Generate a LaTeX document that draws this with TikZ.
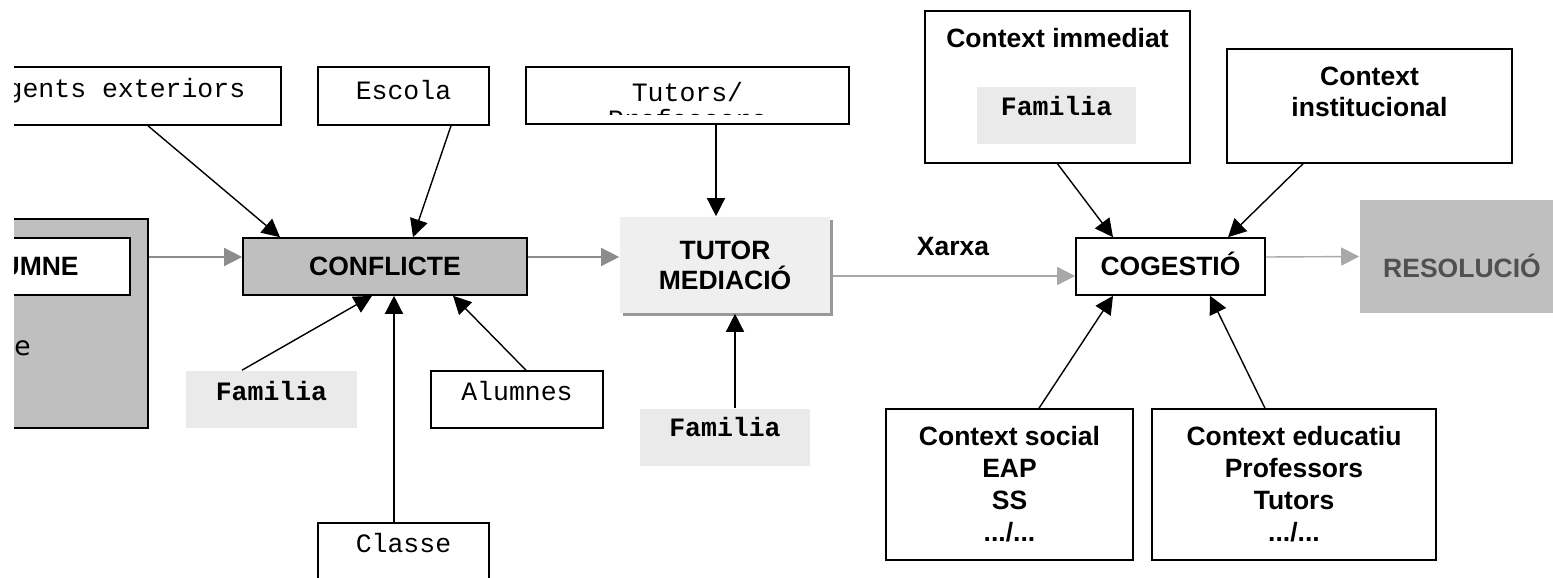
\documentclass[tikz,border=0pt]{standalone}
\usepackage{fontspec}
\setmainfont{Liberation Sans}
\setmonofont{Liberation Mono}
\newfontfamily\dejavu{DejaVu Sans}
\usetikzlibrary{arrows.meta,shadows}
\definecolor{boxgray}{HTML}{BFBFBF}
\definecolor{lightbox}{HTML}{EAEAEA}
\definecolor{tutorfill}{HTML}{EFEFEF}
\definecolor{darkarrow}{HTML}{8C8C8C}
\definecolor{lightarrow}{HTML}{A8A8A8}
\definecolor{restext}{HTML}{505050}
\newcommand\bfont{\fontsize{13.25}{16}\selectfont\bfseries}
\newcommand\mfont{\fontsize{13.25}{16}\selectfont\ttfamily}
\begin{document}
\begin{tikzpicture}[x=0.5pt,y=-0.5pt,
  bbox/.style={draw,line width=0.8pt,inner sep=0pt,font=\bfont,align=center},
  tbox/.style={draw,line width=0.8pt,inner sep=0pt,font=\mfont,text height=10pt,text depth=9pt},
  fambox/.style={tbox,draw=none,fill=lightbox,font=\mfont\bfseries},
  arr/.style={line width=0.7pt,-{Triangle[length=9pt,width=9pt]}},
  garr/.style={arr,darkarrow},
  larr/.style={arr,lightarrow}]
\useasboundingbox (0,0) rectangle (1553,578);
\clip (14,0) rectangle (1553,578);

\node[tbox,minimum width=163pt,minimum height=29pt] (agents) at (118,96) {Agents exteriors};
\node[tbox,minimum width=85.5pt,minimum height=29pt,text depth=6.5pt] (escola) at (403.5,96) {Escola};
\node[tbox,minimum width=161.5pt,minimum height=28.5pt] (tutors) at (687.5,95.5) {};
\begin{scope}
\clip (tutors.north west) rectangle ([yshift=5pt]tutors.south east);
\node[font=\mfont,align=center,inner sep=0pt,anchor=north] (tutorstxt) at (687.5,82) {Tutors/\\[-2.5pt]Professors};
\end{scope}

\node[bbox,fill=boxgray,minimum width=124pt,minimum height=104.5pt] (alumne) at (24,323.5) {};
\node[bbox,fill=white,minimum width=108pt,minimum height=28.5pt] (alumnebox) at (22,266.5) {ALUMNE};
\node[font=\fontsize{13.25}{16}\selectfont\dejavu,inner sep=0pt,anchor=east] (alumnee) at (31,348) {e};

\node[bbox,fill=boxgray,minimum width=142pt,minimum height=28.5pt,text height=9.5pt] (conflicte) at (385,266.5) {CONFLICTE};
\node[fambox,minimum width=85.5pt,minimum height=28.5pt] (familia1) at (271.5,399.5) {Familia};
\node[tbox,minimum width=86pt,minimum height=28.5pt] (alumnes) at (517,399.5) {Alumnes};
\node[tbox,minimum width=85.5pt,minimum height=29pt,text depth=10pt] (classe) at (403.5,552) {Classe};

\node[bbox,draw=none,fill=tutorfill,minimum width=105pt,minimum height=48pt,
  drop shadow={shadow xshift=1.5pt,shadow yshift=-1.5pt,fill=black!40,opacity=1}] (tutor) at (725,265) {TUTOR\\[-1pt]MEDIACIÓ};
\node[fambox,minimum width=85pt,minimum height=28.5pt,text depth=11pt] (familia2) at (725,437.5) {Familia};
\node[font=\bfont,inner sep=0pt] (xarxa) at (953,247) {Xarxa};

\node[bbox,minimum width=132.5pt,minimum height=76pt] (ctximm) at (1057.5,87) {};
\node[font=\bfont,inner sep=0pt] (ctximmtxt) at (1057.5,38) {Context immediat};
\node[fambox,minimum width=79.5pt,minimum height=28.5pt,text depth=10pt] (famimm) at (1056.5,115.5) {Familia};
\node[bbox,minimum width=142.5pt,minimum height=57pt] (ctxinst) at (1369.5,106) {};
\node[font=\bfont,align=center,inner sep=0pt] (ctxinsttxt) at (1369.5,91.5) {Context\\[-0.5pt]institucional};

\node[bbox,minimum width=94.5pt,minimum height=28.5pt,text height=9.5pt] (cogestio) at (1170.5,266.5) {COGESTIÓ};
\node[bbox,draw=none,fill=boxgray,minimum width=102pt,minimum height=56.5pt] (resolucio) at (1462,256.5) {};
\node[font=\bfont,text=restext,inner sep=0pt] (resoluciotxt) at (1462,266) {RESOLUCIÓ};

\node[bbox,minimum width=123.5pt,minimum height=75.5pt] (ctxsoc) at (1009.5,484.5) {Context social\\EAP\\SS\\.../...};
\node[bbox,minimum width=142pt,minimum height=75.5pt] (ctxedu) at (1294,484.5) {Context educatiu\\Professors\\Tutors\\.../...};

\draw[arr] ([xshift=15pt]agents.south) -- ([xshift=-52.5pt]conflicte.north);
\draw[arr] ([xshift=23.75pt]escola.south) -- ([xshift=14pt]conflicte.north);
\draw[arr] ([xshift=14.25pt]tutors.south) -- ([xshift=-4.5pt]tutor.north);
\draw[garr] ([yshift=33.25pt]alumne.east) -- ([yshift=4.75pt]conflicte.west);
\draw[garr] ([yshift=4.75pt]conflicte.east) -- ([yshift=4pt]tutor.west);
\draw[arr] ([xshift=-14.75pt]familia1.north) -- ([xshift=-6.5pt]conflicte.south);
\draw[arr] ([xshift=-4.75pt]classe.north) -- ([xshift=4.5pt]conflicte.south);
\draw[arr] ([xshift=4.5pt]alumnes.north) -- ([xshift=34pt]conflicte.south);
\draw[arr] ([xshift=5pt]familia2.north) -- ([xshift=5pt]tutor.south);
\draw[larr] ([xshift=1pt,yshift=-5.5pt]tutor.east) -- ([yshift=-4.75pt]cogestio.west);
\draw[larr] ([yshift=4.75pt]cogestio.east) -- (resolucio.west);
\draw[arr] (ctximm.south) -- ([xshift=-28.75pt]cogestio.north);
\draw[arr] ([xshift=-33.25pt]ctxinst.south) -- ([xshift=28.75pt]cogestio.north);
\draw[arr] ([xshift=14.75pt]ctxsoc.north) -- ([xshift=-28.75pt]cogestio.south);
\draw[arr] ([xshift=-14.5pt]ctxedu.north) -- ([xshift=19.75pt]cogestio.south);
\end{tikzpicture}
\end{document}
